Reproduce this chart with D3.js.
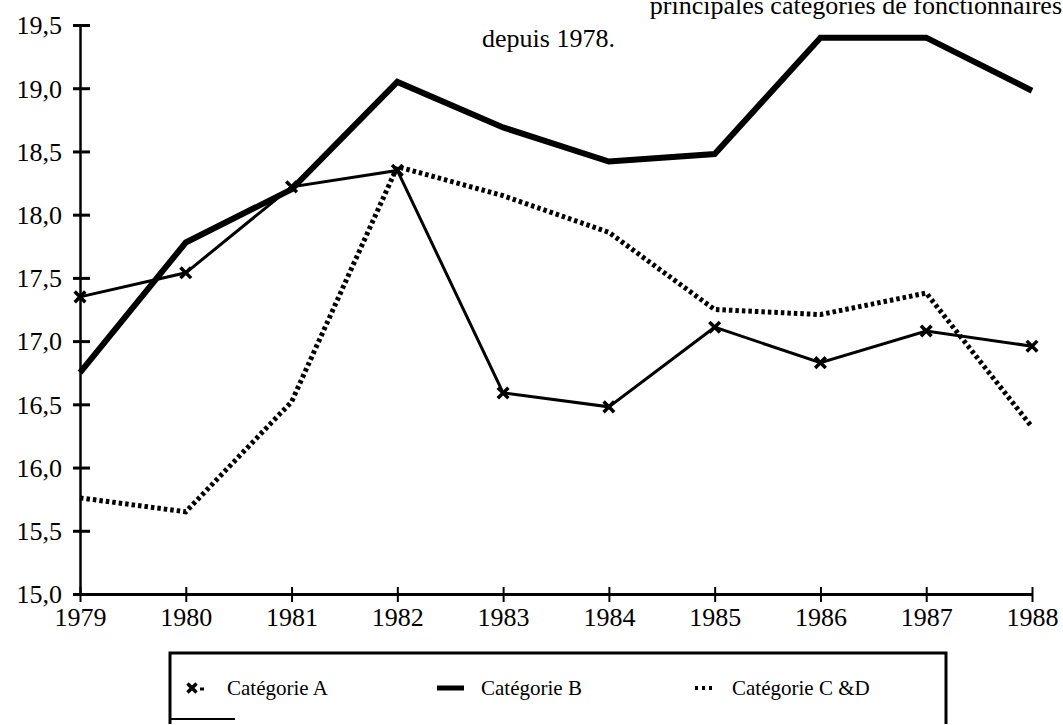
<!DOCTYPE html>
<html>
<head>
<meta charset="utf-8">
<script src="https://cdn.jsdelivr.net/npm/d3@7"></script>
<style>
  body { margin: 0; background: #fff; }
  svg { display: block; }
  text { font-family: "Liberation Serif", "Times New Roman", serif; fill: #000; }
</style>
</head>
<body>
<div id="chart"></div>
<script>
// Data
var years = [1979, 1980, 1981, 1982, 1983, 1984, 1985, 1986, 1987, 1988];
var catA = [17.35, 17.54, 18.22, 18.35, 16.59, 16.48, 17.11, 16.83, 17.08, 16.96];
var catB = [16.75, 17.78, 18.20, 19.05, 18.69, 18.42, 18.48, 19.40, 19.40, 18.98];
var catCD = [15.76, 15.65, 16.52, 18.38, 18.15, 17.86, 17.25, 17.21, 17.38, 16.32];
var yTicks = [15.0, 15.5, 16.0, 16.5, 17.0, 17.5, 18.0, 18.5, 19.0, 19.5];
var legendLabels = ["Catégorie A", "Catégorie B", "Catégorie C &D"];

var width = 1063, height = 725;
var serif = '"Liberation Serif", "Times New Roman", serif';

var svg = d3.select("#chart").append("svg")
    .attr("width", width)
    .attr("height", height);

var x = d3.scaleLinear().domain([1979, 1988]).range([80, 1032]);
var y = d3.scaleLinear().domain([15, 19.5]).range([594, 25]);

// title (cut off at the top, as in the scan)
svg.append("text")
    .attr("x", 1062).attr("y", 14)
    .attr("text-anchor", "end")
    .style("font-size", "26px")
    .text("principales catégories de fonctionnaires");
svg.append("text")
    .attr("x", 482).attr("y", 47)
    .style("font-size", "26px")
    .text("depuis 1978.");

// y axis
var yAxis = d3.axisLeft(y)
    .tickValues(yTicks)
    .tickSize(0)
    .tickPadding(18)
    .tickFormat(function(d) { return d3.format(".1f")(d).replace(".", ","); });

var gy = svg.append("g").attr("transform", "translate(80,0)").call(yAxis)
    .attr("font-family", serif);
gy.select(".domain").attr("stroke", "#000").attr("stroke-width", 2.5);
gy.selectAll(".tick text").style("font-size", "26px").attr("dy", "0.34em");
gy.selectAll(".tick").append("line")
    .attr("x1", -7).attr("x2", 10)
    .attr("stroke", "#000").attr("stroke-width", 3);

// x axis
var xAxis = d3.axisBottom(x)
    .tickValues(years)
    .tickSize(0)
    .tickPadding(14)
    .tickFormat(d3.format("d"));

var gx = svg.append("g").attr("transform", "translate(0,594)").call(xAxis)
    .attr("font-family", serif);
gx.select(".domain").attr("stroke", "#000").attr("stroke-width", 3);
gx.selectAll(".tick text").style("font-size", "26px");
gx.selectAll(".tick").append("line")
    .attr("y1", -7).attr("y2", 8)
    .attr("stroke", "#000").attr("stroke-width", 2);

var line = d3.line()
    .x(function(d, i) { return x(years[i]); })
    .y(function(d) { return y(d); });

// Catégorie C & D (dotted)
svg.append("path")
    .datum(catCD)
    .attr("d", line)
    .attr("fill", "none")
    .attr("stroke", "#000")
    .attr("stroke-width", 5)
    .attr("stroke-dasharray", "3.5,3");

// Catégorie B (thick)
svg.append("path")
    .datum(catB)
    .attr("d", line)
    .attr("fill", "none")
    .attr("stroke", "#000")
    .attr("stroke-width", 6)
    .attr("stroke-linejoin", "miter");

// Catégorie A (thin with crosses)
svg.append("path")
    .datum(catA)
    .attr("d", line)
    .attr("fill", "none")
    .attr("stroke", "#000")
    .attr("stroke-width", 3);

var cross = d3.symbol().type(d3.symbolX).size(75);

svg.append("g").selectAll("path")
    .data(catA)
    .join("path")
    .attr("transform", function(d, i) { return "translate(" + x(years[i]) + "," + y(d) + ")"; })
    .attr("d", cross)
    .attr("fill", "none")
    .attr("stroke", "#000")
    .attr("stroke-width", 3.5);

// legend box
var lg = svg.append("g");
lg.append("path")
    .attr("d", "M170,724 L170,653 L946,653 L946,724")
    .attr("fill", "none")
    .attr("stroke", "#000")
    .attr("stroke-width", 3);
lg.append("line")
    .attr("x1", 170).attr("x2", 235).attr("y1", 719).attr("y2", 719)
    .attr("stroke", "#000").attr("stroke-width", 2);

var legY = 688;
lg.append("path")
    .attr("transform", "translate(192," + legY + ")")
    .attr("d", d3.symbol().type(d3.symbolX).size(55))
    .attr("fill", "none").attr("stroke", "#000").attr("stroke-width", 3.5);
lg.append("line")
    .attr("x1", 200).attr("x2", 204).attr("y1", legY + 1).attr("y2", legY + 1)
    .attr("stroke", "#000").attr("stroke-width", 3);
lg.append("line")
    .attr("x1", 437).attr("x2", 464).attr("y1", legY).attr("y2", legY)
    .attr("stroke", "#000").attr("stroke-width", 5);
lg.append("line")
    .attr("x1", 695).attr("x2", 713).attr("y1", legY).attr("y2", legY)
    .attr("stroke", "#000").attr("stroke-width", 4)
    .attr("stroke-dasharray", "3,4");

var legX = [227, 481, 732];
lg.selectAll("text.leg")
    .data(legendLabels)
    .join("text")
    .attr("class", "leg")
    .attr("x", function(d, i) { return legX[i]; })
    .attr("y", 695)
    .style("font-size", "21px")
    .text(function(d) { return d; });
</script>
</body>
</html>
